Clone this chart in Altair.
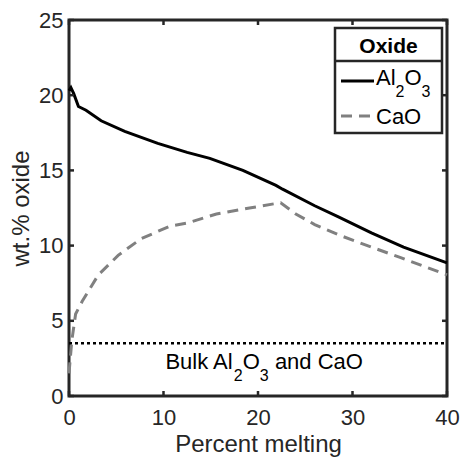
import altair as alt
import pandas as pd

# ---- data ----
melt_al = [0, 0.2, 0.5, 1.0, 1.8, 3.4, 5.9, 9.4, 12.5, 14.9, 18.4, 21.9, 22.6, 26.0, 28.4, 32.0, 35.4, 40]
al2o3 = [20.3, 20.5, 20.1, 19.25, 19.0, 18.3, 17.6, 16.8, 16.2, 15.8, 15.0, 14.0, 13.75, 12.65, 11.95, 10.85, 9.9, 8.85]

melt_cao = [0, 0.3, 0.7, 1.4, 3.1, 5.2, 7.6, 10.7, 12.5, 15.6, 19.1, 21.9, 22.4, 24.0, 26.0, 28.8, 32.0, 35.1, 40]
cao = [1.5, 3.7, 5.45, 6.3, 8.05, 9.35, 10.45, 11.3, 11.5, 12.1, 12.5, 12.8, 12.85, 12.1, 11.4, 10.65, 9.9, 9.2, 8.05]

bulk_level = [3.5]
bulk_span = [0, 40]

x_ticks = [0, 10, 20, 30, 40]
y_ticks = [0, 5, 10, 15, 20, 25]
x_domain = [0, 40]
y_domain = [0, 25]

# text pieces: (text, is_subscript)
series_label_parts = [
    [("Al", False), ("2", True), ("O", False), ("3", True)],
    [("CaO", False)],
]
legend_title = "Oxide"
annotation_parts = [("Bulk Al", False), ("2", True), ("O", False), ("3", True), (" and CaO", False)]
annotation_x = 10.2
annotation_y = 1.77

x_title = "Percent melting"
y_title = "wt.% oxide"

# ---- layout / style ----
W, H = 378, 376
AX = "#262626"
GRAY = "#808080"
DASH = [11, 7]
FONT = "Liberation Sans"
FS = 22      # main text size
FS_SUB = 16  # subscript size
SUB_DY = 11.5
TICK = 5

# Arial / Liberation Sans advance widths (per 1000 em)
ADV = {"B": 667, "u": 556, "l": 222, "k": 500, " ": 278, "A": 667, "O": 778,
       "a": 556, "n": 556, "d": 556, "C": 722}
for _d in "0123456789":
    ADV[_d] = 556


def text_width(s, size):
    return sum(ADV.get(c, 556) for c in s) * size / 1000.0


def piece_layers(parts, anchor_enc, color="black"):
    layers = []
    dx = 0.0
    for txt, sub in parts:
        size = FS_SUB if sub else FS
        lead = len(txt) - len(txt.lstrip(" "))
        dx += text_width(txt[:lead], size)
        core = txt.strip(" ")
        layers.append(
            alt.Chart(anchor_enc[0]).mark_text(
                text=core, fontSize=size, color=color, align="left",
                baseline="alphabetic", dx=dx, dy=SUB_DY if sub else 0
            ).encode(**anchor_enc[1])
        )
        dx += text_width(core, size)
    return layers


df_al = pd.DataFrame({"x": melt_al, "y": al2o3})
df_cao = pd.DataFrame({"x": melt_cao, "y": cao})
df_bulk = pd.DataFrame({"x": [bulk_span[0]], "x2": [bulk_span[1]], "y": bulk_level})
df_xt = pd.DataFrame({"v": x_ticks})
df_yt = pd.DataFrame({"v": y_ticks})
df_ann = pd.DataFrame({"x": [annotation_x], "y": [annotation_y]})
one = pd.DataFrame({"k": [0]})

xs = alt.Scale(domain=x_domain, nice=False, zero=False)
ys = alt.Scale(domain=y_domain, nice=False, zero=False)

X_AXIS = alt.Axis(orient="bottom", values=x_ticks, title=x_title, ticks=False, tickSize=0,
                  domain=False, grid=False, labelFontSize=FS, titleFontSize=24,
                  labelPadding=11, titlePadding=4, labelColor=AX, titleColor=AX,
                  titleFontWeight="normal", labelFlush=False)
Y_AXIS = alt.Axis(orient="left", values=y_ticks, title=y_title, ticks=False, tickSize=0,
                  domain=False, grid=False, labelFontSize=FS, titleFontSize=24,
                  labelPadding=6, titlePadding=5, labelColor=AX, titleColor=AX,
                  titleFontWeight="normal", labelFlush=False)


def X(field):
    return alt.X(field, scale=xs, axis=X_AXIS)


def Y(field):
    return alt.Y(field, scale=ys, axis=Y_AXIS)


al_line = alt.Chart(df_al).mark_line(color="black", strokeWidth=3).encode(
    x=X("x:Q"), y=Y("y:Q"))

cao_line = alt.Chart(df_cao).mark_line(color=GRAY, strokeWidth=3, strokeDash=DASH).encode(
    x=X("x:Q"), y=Y("y:Q"))

bulk = alt.Chart(df_bulk).mark_rule(color="black", strokeWidth=2.5, strokeDash=[3, 3]).encode(
    x=X("x:Q"), x2="x2:Q", y=Y("y:Q"))

# inward ticks on all four sides (MATLAB box style)
tick_style = dict(color=AX, strokeWidth=2.5)
t_bottom = alt.Chart(df_xt).mark_rule(**tick_style).encode(
    x=X("v:Q"), y=alt.value(H), y2=alt.value(H - TICK))
t_top = alt.Chart(df_xt).mark_rule(**tick_style).encode(
    x=X("v:Q"), y=alt.value(0), y2=alt.value(TICK))
t_left = alt.Chart(df_yt).mark_rule(**tick_style).encode(
    y=Y("v:Q"), x=alt.value(0), x2=alt.value(TICK))
t_right = alt.Chart(df_yt).mark_rule(**tick_style).encode(
    y=Y("v:Q"), x=alt.value(W), x2=alt.value(W - TICK))

ann_layers = piece_layers(
    annotation_parts, (df_ann, dict(x=X("x:Q"), y=Y("y:Q"))))

# ---- manual legend (MATLAB style box with title separator) ----
LX0, LX1, LY0, LY1 = 266, 373, 8, 113
leg_box = alt.Chart(one).mark_rect(fill="white", stroke=AX, strokeWidth=2.5).encode(
    x=alt.value(LX0), x2=alt.value(LX1), y=alt.value(LY0), y2=alt.value(LY1))
leg_sep = alt.Chart(one).mark_rule(color=AX, strokeWidth=2.5).encode(
    x=alt.value(LX0), x2=alt.value(LX1), y=alt.value(41))
leg_title = alt.Chart(one).mark_text(text=legend_title, fontSize=21, fontWeight="bold",
                                     color="black", align="center", baseline="alphabetic").encode(
    x=alt.value((LX0 + LX1) / 2), y=alt.value(33))
leg_l1 = alt.Chart(one).mark_rule(color="black", strokeWidth=3).encode(
    x=alt.value(272), x2=alt.value(305), y=alt.value(61))
leg_l2 = alt.Chart(one).mark_rule(color=GRAY, strokeWidth=3, strokeDash=DASH).encode(
    x=alt.value(272), x2=alt.value(305), y=alt.value(96))
leg_t1 = piece_layers(series_label_parts[0], (one, dict(x=alt.value(307), y=alt.value(65))))
leg_t2 = piece_layers(series_label_parts[1], (one, dict(x=alt.value(307), y=alt.value(104))))

chart = alt.layer(
    al_line, cao_line, bulk, t_bottom, t_top, t_left, t_right, *ann_layers,
    leg_box, leg_sep, leg_title, leg_l1, leg_l2, *leg_t1, *leg_t2,
).properties(
    width=W, height=H,
    autosize=alt.AutoSizeParams(type="none"),
    padding={"left": 61, "top": 12, "right": 13, "bottom": 64},
).configure(font=FONT).configure_view(stroke=AX, strokeWidth=3)

chart.save("out.html", embed_options={"renderer": "svg", "actions": False})
